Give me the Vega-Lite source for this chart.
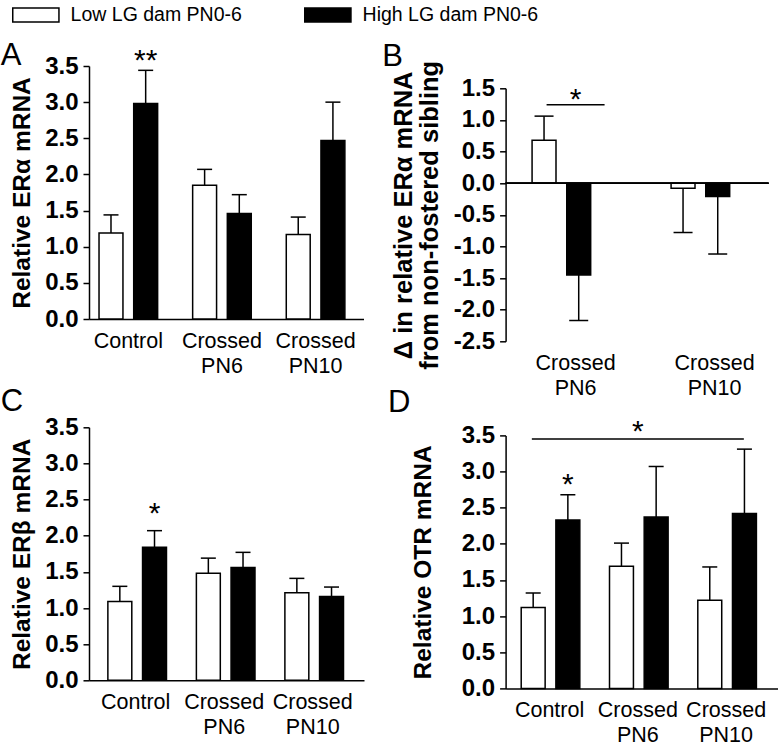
{
  "$schema": "https://vega.github.io/schema/vega-lite/v6.json",
  "padding": {"left": 0, "top": 5, "right": 0, "bottom": 0},
  "background": "white",
  "datasets": {
    "A": [
      {"group": "Control", "dam": "Low LG dam PN0-6", "value": 1.19, "err": 1.44},
      {"group": "Control", "dam": "High LG dam PN0-6", "value": 2.98, "err": 3.44},
      {"group": "Crossed PN6", "dam": "Low LG dam PN0-6", "value": 1.85, "err": 2.07},
      {"group": "Crossed PN6", "dam": "High LG dam PN0-6", "value": 1.46, "err": 1.72},
      {"group": "Crossed PN10", "dam": "Low LG dam PN0-6", "value": 1.17, "err": 1.41},
      {"group": "Crossed PN10", "dam": "High LG dam PN0-6", "value": 2.47, "err": 3.0}
    ],
    "A_sig": [
      {"group": "Control", "dam": "High LG dam PN0-6", "y": 3.45, "label": "**"}
    ],
    "B": [
      {"group": "Crossed PN6", "dam": "Low LG dam PN0-6", "value": 0.68, "err": 1.06},
      {"group": "Crossed PN6", "dam": "High LG dam PN0-6", "value": -1.45, "err": -2.17},
      {"group": "Crossed PN10", "dam": "Low LG dam PN0-6", "value": -0.08, "err": -0.78},
      {"group": "Crossed PN10", "dam": "High LG dam PN0-6", "value": -0.21, "err": -1.12}
    ],
    "B_line": [
      {"group": "Crossed PN6", "y": 1.24, "star": 1.18, "label": "*"}
    ],
    "C": [
      {"group": "Control", "dam": "Low LG dam PN0-6", "value": 1.09, "err": 1.30},
      {"group": "Control", "dam": "High LG dam PN0-6", "value": 1.84, "err": 2.07},
      {"group": "Crossed PN6", "dam": "Low LG dam PN0-6", "value": 1.48, "err": 1.69},
      {"group": "Crossed PN6", "dam": "High LG dam PN0-6", "value": 1.56, "err": 1.77},
      {"group": "Crossed PN10", "dam": "Low LG dam PN0-6", "value": 1.21, "err": 1.41},
      {"group": "Crossed PN10", "dam": "High LG dam PN0-6", "value": 1.16, "err": 1.29}
    ],
    "C_sig": [
      {"group": "Control", "dam": "High LG dam PN0-6", "y": 2.18, "label": "*"}
    ],
    "D": [
      {"group": "Control", "dam": "Low LG dam PN0-6", "value": 1.12, "err": 1.32},
      {"group": "Control", "dam": "High LG dam PN0-6", "value": 2.33, "err": 2.68},
      {"group": "Crossed PN6", "dam": "Low LG dam PN0-6", "value": 1.69, "err": 2.01},
      {"group": "Crossed PN6", "dam": "High LG dam PN0-6", "value": 2.37, "err": 3.07},
      {"group": "Crossed PN10", "dam": "Low LG dam PN0-6", "value": 1.22, "err": 1.68},
      {"group": "Crossed PN10", "dam": "High LG dam PN0-6", "value": 2.42, "err": 3.31}
    ],
    "D_sig": [
      {"group": "Control", "dam": "High LG dam PN0-6", "y": 2.69, "label": "*"}
    ],
    "D_line": [
      {"group": "Crossed PN6", "y": 3.45, "star": 3.42, "label": "*"}
    ],
    "spacer": [{"k": 0}]
  },
  "hconcat": [
    {
      "vconcat": [
        {
          "width": 274.5,
          "height": 253,
          "title": {"text": "A", "offset": -26, "dx": -9},
          "layer": [
            {
              "data": {"name": "A"},
              "mark": {"type": "bar", "stroke": "black", "strokeWidth": 1.5},
              "encoding": {
                "x": {"field": "group", "type": "nominal", "sort": ["Control", "Crossed PN6", "Crossed PN10"], "title": null,
                  "scale": {"paddingInner": 0.374, "paddingOuter": 0.153, "align": 0.35},
                  "axis": {"labelExpr": "split(datum.value, ' ')"}},
                "xOffset": {"field": "dam", "type": "nominal", "sort": ["Low LG dam PN0-6", "High LG dam PN0-6"], "scale": {"paddingInner": 0.31, "paddingOuter": 0}},
                "y": {"field": "value", "type": "quantitative", "title": "Relative ERα mRNA",
                  "scale": {"domain": [0, 3.5], "nice": false},
                  "axis": {"values": [0, 0.5, 1, 1.5, 2, 2.5, 3, 3.5], "tickCount": 20, "format": ".1f", "titlePadding": 10, "labelOverlap": false}},
                "fill": {"field": "dam", "type": "nominal", "sort": ["Low LG dam PN0-6", "High LG dam PN0-6"],
                  "scale": {"domain": ["Low LG dam PN0-6", "High LG dam PN0-6"], "range": ["white", "black"]},
                  "legend": {"title": null}}
              }
            },
            {
              "data": {"name": "A"},
              "mark": {"type": "rule", "strokeWidth": 1.5, "color": "black"},
              "encoding": {
                "x": {"field": "group", "type": "nominal", "sort": ["Control", "Crossed PN6", "Crossed PN10"], "title": null},
                "xOffset": {"field": "dam", "type": "nominal", "sort": ["Low LG dam PN0-6", "High LG dam PN0-6"]},
                "y": {"field": "value", "type": "quantitative", "title": "Relative ERα mRNA"},
                "y2": {"field": "err"}
              }
            },
            {
              "data": {"name": "A"},
              "mark": {"type": "tick", "orient": "horizontal", "size": 15, "thickness": 1.5, "color": "black", "opacity": 1},
              "encoding": {
                "x": {"field": "group", "type": "nominal", "sort": ["Control", "Crossed PN6", "Crossed PN10"], "title": null},
                "xOffset": {"field": "dam", "type": "nominal", "sort": ["Low LG dam PN0-6", "High LG dam PN0-6"]},
                "y": {"field": "err", "type": "quantitative", "title": "Relative ERα mRNA"}
              }
            },
            {
              "data": {"name": "A_sig"},
              "mark": {"type": "text", "fontSize": 30, "baseline": "alphabetic", "color": "black"},
              "encoding": {
                "x": {"field": "group", "type": "nominal", "sort": ["Control", "Crossed PN6", "Crossed PN10"], "title": null},
                "xOffset": {"field": "dam", "type": "nominal", "sort": ["Low LG dam PN0-6", "High LG dam PN0-6"]},
                "y": {"field": "y", "type": "quantitative", "title": "Relative ERα mRNA"},
                "text": {"field": "label"}
              }
            }
          ]
        },
        {
          "width": 275,
          "height": 253,
          "title": {"text": "C", "offset": -2.3, "dx": -9},
          "layer": [
            {
              "data": {"name": "C"},
              "mark": {"type": "bar", "stroke": "black", "strokeWidth": 1.5},
              "encoding": {
                "x": {"field": "group", "type": "nominal", "sort": ["Control", "Crossed PN6", "Crossed PN10"], "title": null,
                  "scale": {"paddingInner": 0.371, "paddingOuter": 0.239, "align": 0.446},
                  "axis": {"labelExpr": "split(datum.value, ' ')"}},
                "xOffset": {"field": "dam", "type": "nominal", "sort": ["Low LG dam PN0-6", "High LG dam PN0-6"], "scale": {"paddingInner": 0.297, "paddingOuter": 0}},
                "y": {"field": "value", "type": "quantitative", "title": "Relative ERβ mRNA",
                  "scale": {"domain": [0, 3.5], "nice": false},
                  "axis": {"values": [0, 0.5, 1, 1.5, 2, 2.5, 3, 3.5], "tickCount": 20, "format": ".1f", "titlePadding": 10, "labelOverlap": false}},
                "fill": {"field": "dam", "type": "nominal", "sort": ["Low LG dam PN0-6", "High LG dam PN0-6"],
                  "scale": {"domain": ["Low LG dam PN0-6", "High LG dam PN0-6"], "range": ["white", "black"]},
                  "legend": {"title": null}}
              }
            },
            {
              "data": {"name": "C"},
              "mark": {"type": "rule", "strokeWidth": 1.5, "color": "black"},
              "encoding": {
                "x": {"field": "group", "type": "nominal", "sort": ["Control", "Crossed PN6", "Crossed PN10"], "title": null},
                "xOffset": {"field": "dam", "type": "nominal", "sort": ["Low LG dam PN0-6", "High LG dam PN0-6"]},
                "y": {"field": "value", "type": "quantitative", "title": "Relative ERβ mRNA"},
                "y2": {"field": "err"}
              }
            },
            {
              "data": {"name": "C"},
              "mark": {"type": "tick", "orient": "horizontal", "size": 15, "thickness": 1.5, "color": "black", "opacity": 1},
              "encoding": {
                "x": {"field": "group", "type": "nominal", "sort": ["Control", "Crossed PN6", "Crossed PN10"], "title": null},
                "xOffset": {"field": "dam", "type": "nominal", "sort": ["Low LG dam PN0-6", "High LG dam PN0-6"]},
                "y": {"field": "err", "type": "quantitative", "title": "Relative ERβ mRNA"}
              }
            },
            {
              "data": {"name": "C_sig"},
              "mark": {"type": "text", "fontSize": 30, "baseline": "alphabetic", "color": "black"},
              "encoding": {
                "x": {"field": "group", "type": "nominal", "sort": ["Control", "Crossed PN6", "Crossed PN10"], "title": null},
                "xOffset": {"field": "dam", "type": "nominal", "sort": ["Low LG dam PN0-6", "High LG dam PN0-6"]},
                "y": {"field": "y", "type": "quantitative", "title": "Relative ERβ mRNA"},
                "text": {"field": "label"}
              }
            }
          ]
        }
      ],
      "spacing": 8.3
    },
    {
      "vconcat": [
        {
          "vconcat": [
            {
              "width": 1,
              "height": 1,
              "data": {"name": "spacer"},
              "mark": {"type": "point", "opacity": 0, "size": 1},
              "encoding": {}
            },
            {
              "width": 263,
              "height": 253,
              "title": {"text": "B", "offset": -12.3, "dx": -9},
              "layer": [
                {
                  "data": {"name": "B"},
                  "mark": {"type": "bar", "stroke": "black", "strokeWidth": 1.5},
                  "encoding": {
                    "x": {"field": "group", "type": "nominal", "sort": ["Crossed PN6", "Crossed PN10"], "title": null,
                      "scale": {"paddingInner": 0.374, "paddingOuter": 0.133, "align": 0.716},
                      "axis": {"labelExpr": "split(datum.value, ' ')", "domain": false}},
                    "xOffset": {"field": "dam", "type": "nominal", "sort": ["Low LG dam PN0-6", "High LG dam PN0-6"], "scale": {"paddingInner": 0.343, "paddingOuter": 0}},
                    "y": {"field": "value", "type": "quantitative", "title": ["Δ in relative ERα mRNA", "from non-fostered sibling"],
                      "scale": {"domain": [-2.5, 1.5], "nice": false},
                      "axis": {"values": [-2.5, -2, -1.5, -1, -0.5, 0, 0.5, 1, 1.5], "tickCount": 20, "labelExpr": "(datum.value < 0 ? '-' : '') + format(abs(datum.value), '.1f')", "titlePadding": 11, "titleLineHeight": 26, "titleFontSize": 25.5, "labelOverlap": false}},
                    "fill": {"field": "dam", "type": "nominal", "sort": ["Low LG dam PN0-6", "High LG dam PN0-6"],
                      "scale": {"domain": ["Low LG dam PN0-6", "High LG dam PN0-6"], "range": ["white", "black"]},
                      "legend": {"title": null}}
                  }
                },
                {
                  "data": {"name": "B"},
                  "mark": {"type": "rule", "strokeWidth": 1.5, "color": "black"},
                  "encoding": {
                    "y": {"datum": 0, "type": "quantitative"}
                  }
                },
                {
                  "data": {"name": "B"},
                  "mark": {"type": "rule", "strokeWidth": 1.5, "color": "black"},
                  "encoding": {
                    "x": {"field": "group", "type": "nominal", "sort": ["Crossed PN6", "Crossed PN10"], "title": null},
                    "xOffset": {"field": "dam", "type": "nominal", "sort": ["Low LG dam PN0-6", "High LG dam PN0-6"]},
                    "y": {"field": "value", "type": "quantitative"},
                    "y2": {"field": "err"}
                  }
                },
                {
                  "data": {"name": "B"},
                  "mark": {"type": "tick", "orient": "horizontal", "size": 19, "thickness": 1.5, "color": "black", "opacity": 1},
                  "encoding": {
                    "x": {"field": "group", "type": "nominal", "sort": ["Crossed PN6", "Crossed PN10"], "title": null},
                    "xOffset": {"field": "dam", "type": "nominal", "sort": ["Low LG dam PN0-6", "High LG dam PN0-6"]},
                    "y": {"field": "err", "type": "quantitative"}
                  }
                },
                {
                  "data": {"name": "B_line"},
                  "mark": {"type": "tick", "orient": "horizontal", "size": 58, "thickness": 1.5, "color": "black", "opacity": 1},
                  "encoding": {
                    "x": {"field": "group", "type": "nominal", "sort": ["Crossed PN6", "Crossed PN10"], "title": null},
                    "y": {"field": "y", "type": "quantitative"}
                  }
                },
                {
                  "data": {"name": "B_line"},
                  "mark": {"type": "text", "fontSize": 30, "baseline": "alphabetic", "color": "black"},
                  "encoding": {
                    "x": {"field": "group", "type": "nominal", "sort": ["Crossed PN6", "Crossed PN10"], "title": null},
                    "y": {"field": "star", "type": "quantitative"},
                    "text": {"field": "label"}
                  }
                }
              ]
            }
          ],
          "spacing": -26.7
        },
        {
          "width": 272.3,
          "height": 253,
          "title": {"text": "D", "offset": -1.5, "dx": -22.7},
          "layer": [
            {
              "data": {"name": "D"},
              "mark": {"type": "bar", "stroke": "black", "strokeWidth": 1.5},
              "encoding": {
                "x": {"field": "group", "type": "nominal", "sort": ["Control", "Crossed PN6", "Crossed PN10"], "title": null,
                  "scale": {"paddingInner": 0.358, "paddingOuter": 0.221, "align": 0.4},
                  "axis": {"labelExpr": "split(datum.value, ' ')"}},
                "xOffset": {"field": "dam", "type": "nominal", "sort": ["Low LG dam PN0-6", "High LG dam PN0-6"], "scale": {"paddingInner": 0.318, "paddingOuter": 0}},
                "y": {"field": "value", "type": "quantitative", "title": "Relative OTR mRNA",
                  "scale": {"domain": [0, 3.5], "nice": false},
                  "axis": {"values": [0, 0.5, 1, 1.5, 2, 2.5, 3, 3.5], "tickCount": 20, "format": ".1f", "titlePadding": 25.5, "labelOverlap": false}},
                "fill": {"field": "dam", "type": "nominal", "sort": ["Low LG dam PN0-6", "High LG dam PN0-6"],
                  "scale": {"domain": ["Low LG dam PN0-6", "High LG dam PN0-6"], "range": ["white", "black"]},
                  "legend": {"title": null}}
              }
            },
            {
              "data": {"name": "D"},
              "mark": {"type": "rule", "strokeWidth": 1.5, "color": "black"},
              "encoding": {
                "x": {"field": "group", "type": "nominal", "sort": ["Control", "Crossed PN6", "Crossed PN10"], "title": null},
                "xOffset": {"field": "dam", "type": "nominal", "sort": ["Low LG dam PN0-6", "High LG dam PN0-6"]},
                "y": {"field": "value", "type": "quantitative", "title": "Relative OTR mRNA"},
                "y2": {"field": "err"}
              }
            },
            {
              "data": {"name": "D"},
              "mark": {"type": "tick", "orient": "horizontal", "size": 15, "thickness": 1.5, "color": "black", "opacity": 1},
              "encoding": {
                "x": {"field": "group", "type": "nominal", "sort": ["Control", "Crossed PN6", "Crossed PN10"], "title": null},
                "xOffset": {"field": "dam", "type": "nominal", "sort": ["Low LG dam PN0-6", "High LG dam PN0-6"]},
                "y": {"field": "err", "type": "quantitative", "title": "Relative OTR mRNA"}
              }
            },
            {
              "data": {"name": "D_sig"},
              "mark": {"type": "text", "fontSize": 30, "baseline": "alphabetic", "color": "black"},
              "encoding": {
                "x": {"field": "group", "type": "nominal", "sort": ["Control", "Crossed PN6", "Crossed PN10"], "title": null},
                "xOffset": {"field": "dam", "type": "nominal", "sort": ["Low LG dam PN0-6", "High LG dam PN0-6"]},
                "y": {"field": "y", "type": "quantitative", "title": "Relative OTR mRNA"},
                "text": {"field": "label"}
              }
            },
            {
              "data": {"name": "D_line"},
              "mark": {"type": "tick", "orient": "horizontal", "size": 212, "thickness": 1.5, "color": "black", "opacity": 1},
              "encoding": {
                "x": {"field": "group", "type": "nominal", "sort": ["Control", "Crossed PN6", "Crossed PN10"], "title": null},
                "y": {"field": "y", "type": "quantitative", "title": "Relative OTR mRNA"}
              }
            },
            {
              "data": {"name": "D_line"},
              "mark": {"type": "text", "fontSize": 30, "baseline": "alphabetic", "color": "black"},
              "encoding": {
                "x": {"field": "group", "type": "nominal", "sort": ["Control", "Crossed PN6", "Crossed PN10"], "title": null},
                "y": {"field": "star", "type": "quantitative", "title": "Relative OTR mRNA"},
                "text": {"field": "label"}
              }
            }
          ]
        }
      ],
      "spacing": -12.6
    }
  ],
  "spacing": 17.6,
  "config": {
    "font": "Liberation Sans",
    "view": {"stroke": null},
    "axis": {"labelFont": "Liberation Sans", "titleFont": "Liberation Sans", "labelColor": "black", "titleColor": "black", "domainColor": "black", "tickColor": "black", "domainWidth": 1.5, "tickWidth": 1.5, "grid": false, "labelOverlap": false},
    "axisY": {"labelFontSize": 24, "labelFontWeight": "bold", "titleFontSize": 24.5, "titleFontWeight": "bold", "tickSize": 6, "labelPadding": 5},
    "axisX": {"labelFontSize": 21.5, "labelAngle": 0, "ticks": false, "labelPadding": 11, "labelLineHeight": 25},
    "title": {"fontSize": 31, "fontWeight": "normal", "anchor": "start", "frame": "bounds", "baseline": "alphabetic", "color": "black", "font": "Liberation Sans"},
    "legend": {"orient": "none", "legendX": -62.9, "legendY": -61, "direction": "horizontal", "symbolType": "M-3.3,-1H3.3V1H-3.3Z", "symbolSize": 196, "symbolStrokeColor": "black", "symbolStrokeWidth": 1.5, "symbolOpacity": 1, "labelFontSize": 19.5, "labelFont": "Liberation Sans", "labelColor": "black", "labelOffset": 25, "columnPadding": 59, "padding": 0, "labelLimit": 400}
  }
}
